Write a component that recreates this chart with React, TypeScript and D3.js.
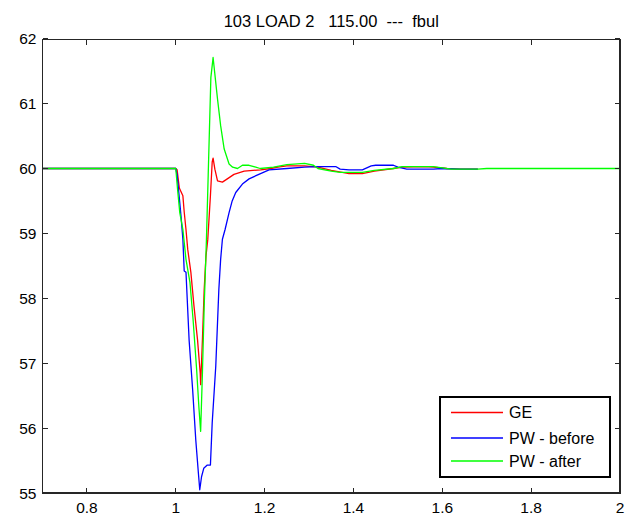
import React from "react";
import * as d3 from "d3";

const titleText = "103 LOAD 2   115.00  ---  fbul";
const xTicks = [0.8, 1, 1.2, 1.4, 1.6, 1.8, 2];
const yTicks = [55, 56, 57, 58, 59, 60, 61, 62];
const seriesNames = ["GE", "PW - before", "PW - after"];
const seriesColors = ["#ff0000", "#0000ff", "#00ff00"];

const geTime = [0.7, 1.0, 1.003, 1.008, 1.016, 1.019, 1.023, 1.027, 1.034, 1.041, 1.049, 1.055, 1.056, 1.06, 1.064, 1.068, 1.072, 1.078, 1.082, 1.084, 1.088, 1.094, 1.105, 1.116, 1.131, 1.154, 1.191, 1.214, 1.23, 1.25, 1.29, 1.32, 1.35, 1.39, 1.42, 1.447, 1.49, 1.51, 1.56, 1.58, 1.61, 1.64, 1.68];
const geFreq = [60, 60, 59.98, 59.7, 59.58, 59.33, 59.06, 58.75, 58.4, 57.88, 57.36, 56.85, 56.67, 57.36, 58.14, 58.65, 58.9, 59.58, 60.1, 60.16, 59.99, 59.81, 59.79, 59.84, 59.91, 59.96, 59.98, 60.0, 60.02, 60.04, 60.04, 60.02, 59.97, 59.92, 59.92, 59.96, 60.0, 60.02, 60.03, 60.02, 60.0, 59.99, 59.99];

const pwBeforeTime = [0.7, 1.0, 1.003, 1.008, 1.012, 1.016, 1.019, 1.023, 1.03, 1.038, 1.045, 1.051, 1.054, 1.058, 1.063, 1.071, 1.078, 1.082, 1.09, 1.097, 1.101, 1.105, 1.111, 1.12, 1.127, 1.135, 1.15, 1.165, 1.187, 1.21, 1.25, 1.29, 1.32, 1.36, 1.37, 1.39, 1.42, 1.44, 1.45, 1.49, 1.5, 1.52, 1.58, 1.6, 1.64, 1.68];
const pwBeforeFreq = [60, 60, 59.9, 59.55, 59.25, 58.91, 58.42, 58.4, 57.36, 56.59, 55.82, 55.3, 55.05, 55.25, 55.38, 55.43, 55.43, 56.08, 56.95, 58.14, 58.6, 58.91, 59.06, 59.32, 59.5, 59.63, 59.76, 59.84, 59.91, 59.98, 60.0, 60.02, 60.03, 60.03, 59.99, 59.98, 59.98, 60.04, 60.05, 60.05, 60.02, 59.99, 59.99, 60.0, 59.99, 59.99];

const pwAfterTime = [0.7, 1.0, 1.004, 1.009, 1.016, 1.023, 1.032, 1.039, 1.047, 1.052, 1.056, 1.06, 1.064, 1.069, 1.073, 1.079, 1.084, 1.094, 1.101, 1.109, 1.12, 1.128, 1.139, 1.15, 1.165, 1.18, 1.19, 1.22, 1.25, 1.29, 1.31, 1.32, 1.35, 1.37, 1.42, 1.447, 1.49, 1.51, 1.58, 1.6, 1.62, 1.68, 1.7, 2.0];
const pwAfterFreq = [60, 60, 59.68, 59.32, 59.06, 58.6, 58.24, 57.67, 56.9, 56.33, 55.95, 56.85, 57.88, 58.9, 59.9, 61.4, 61.71, 61.07, 60.66, 60.3, 60.07, 60.02, 60.0, 60.05, 60.05, 60.02, 60.0, 60.02, 60.06, 60.08, 60.05, 60.0, 59.96, 59.94, 59.94, 59.97, 60.0, 60.03, 60.03, 60.01, 59.99, 59.99, 60.0, 60.0];

const W = 629;
const H = 519;
const M = { left: 42.5, right: 620, top: 39.5, bottom: 493 };
const FONT = "'Liberation Sans', Arial, Helvetica, sans-serif";

export default function App() {
  const x = d3.scaleLinear().domain([0.7, 2]).range([M.left, M.right]);
  const y = d3.scaleLinear().domain([55, 62]).range([M.bottom, 38.7]);
  const line = d3
    .line<[number, number]>()
    .x((d) => x(d[0]))
    .y((d) => y(d[1]));

  const series = [
    { t: geTime, v: geFreq },
    { t: pwBeforeTime, v: pwBeforeFreq },
    { t: pwAfterTime, v: pwAfterFreq },
  ];

  const tickLen = 5;
  const axisColor = "#262626";
  const legX0 = 440, legX1 = 610, legY0 = 397, legY1 = 477;
  const legRows = [412.5, 438, 461];

  return (
    <svg
      width={W}
      height={H}
      style={{ position: "absolute", left: 0, top: 0, background: "#fff" }}
      fontFamily={FONT}
    >
      <rect x={0} y={0} width={W} height={H} fill="#fff" />
      <defs>
        <clipPath id="plotclip">
          <rect x={M.left} y={M.top} width={M.right - M.left} height={M.bottom - M.top} />
        </clipPath>
      </defs>
      <text x={(M.left + M.right) / 2} y={27} textAnchor="middle" fontSize={16.5} fill="#000" style={{ whiteSpace: "pre" }}>
        {titleText}
      </text>
      <g clipPath="url(#plotclip)">
        {series.map((s, i) => (
          <path
            key={i}
            d={line(s.t.map((t, j) => [t, s.v[j]] as [number, number])) || ""}
            fill="none"
            stroke={seriesColors[i]}
            strokeWidth={1.3}
            strokeLinejoin="round"
          />
        ))}
      </g>
      {xTicks.map((t) => (
        <g key={"xt" + t}>
          <line x1={x(t)} x2={x(t)} y1={M.bottom} y2={M.bottom - tickLen} stroke={axisColor} strokeWidth={1} shapeRendering="crispEdges" />
          <line x1={x(t)} x2={x(t)} y1={M.top} y2={M.top + tickLen} stroke={axisColor} strokeWidth={1} shapeRendering="crispEdges" />
          <text x={x(t)} y={M.bottom + 20} textAnchor="middle" fontSize={15.5} fill="#000">
            {String(t)}
          </text>
        </g>
      ))}
      {yTicks.map((t) => (
        <g key={"yt" + t}>
          <line x1={M.left} x2={M.left + tickLen} y1={y(t)} y2={y(t)} stroke={axisColor} strokeWidth={1} shapeRendering="crispEdges" />
          <line x1={M.right} x2={M.right - tickLen} y1={y(t)} y2={y(t)} stroke={axisColor} strokeWidth={1} shapeRendering="crispEdges" />
          <text x={M.left - 6} y={y(t) + 5.5} textAnchor="end" fontSize={15.5} fill="#000">
            {String(t)}
          </text>
        </g>
      ))}
      <rect
        x={M.left}
        y={M.top}
        width={M.right - M.left}
        height={M.bottom - M.top}
        fill="none"
        stroke={axisColor}
        strokeWidth={1.5}
        shapeRendering="crispEdges"
      />
      <rect x={legX0} y={legY0} width={legX1 - legX0} height={legY1 - legY0} fill="#fff" stroke="#000" strokeWidth={1.2} shapeRendering="crispEdges" />
      {seriesNames.map((n, i) => (
        <g key={n}>
          <line x1={451} x2={503} y1={legRows[i]} y2={legRows[i]} stroke={seriesColors[i]} strokeWidth={1.3} />
          <text x={509} y={legRows[i] + 5.5} fontSize={16} fill="#000" style={{ whiteSpace: "pre" }}>
            {n}
          </text>
        </g>
      ))}
    </svg>
  );
}
